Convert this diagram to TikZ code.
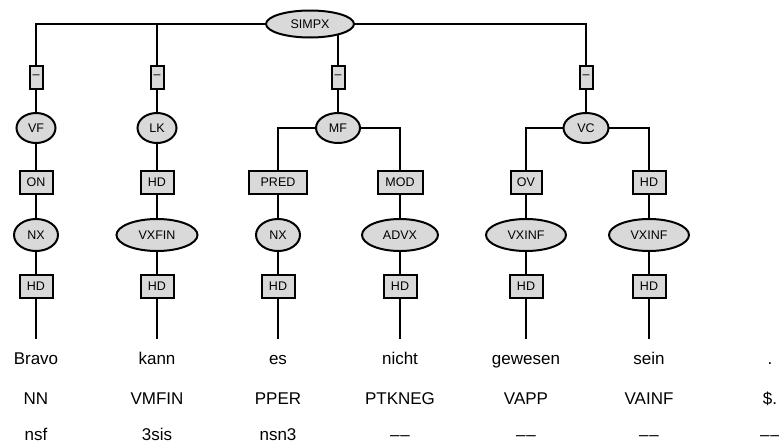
\documentclass[tikz,border=0pt]{standalone}
\usepackage{fontspec}
\setmainfont{Liberation Sans}
\usetikzlibrary{shapes.geometric,backgrounds}
\definecolor{nodegray}{RGB}{217,217,217}
\newcommand{\nomorph}{\textendash\kern0.8pt\textendash}
\begin{document}
\begin{tikzpicture}[x=1pt,y=-1pt,
  cat/.style={ellipse,draw,fill=nodegray,line width=2pt,inner sep=0pt,
    font=\fontsize{12.5}{14}\selectfont,minimum height=30pt},
  edgelab/.style={rectangle,draw,fill=nodegray,line width=2pt,inner sep=0pt,
    minimum height=23pt,minimum width=33pt,font=\fontsize{12.5}{14}\selectfont},
  conn/.style={line width=2pt},
  word/.style={anchor=base,font=\fontsize{17}{20}\selectfont,inner xsep=0pt,
    inner ysep=13pt,text height=12pt,text depth=4pt},
  tagtext/.style={anchor=base,font=\fontsize{17}{20}\selectfont,inner sep=0pt},
]
\useasboundingbox (0,0) rectangle (779,445);

% top level
\node[cat,minimum width=88pt,minimum height=27pt] (simpx) at (310,24) {SIMPX};
\node[edgelab,minimum width=13pt] (d1) at (36,77) {\textendash};
\node[edgelab,minimum width=13pt] (d2) at (157,77) {\textendash};
\node[edgelab,minimum width=13pt] (d3) at (338,77) {\textendash};
\node[edgelab,minimum width=13pt] (d4) at (586,77) {\textendash};

% fields
\node[cat,minimum width=39pt] (vf) at (36,128) {VF};
\node[cat,minimum width=39pt] (lk) at (157,128) {LK};
\node[cat,minimum width=44pt] (mf) at (338,128) {MF};
\node[cat,minimum width=45pt] (vc) at (586,128) {VC};

% functions
\node[edgelab] (on) at (36,182) {ON};
\node[edgelab] (hdlk) at (157,182) {HD};
\node[edgelab,minimum width=58pt] (pred) at (278,182) {PRED};
\node[edgelab,minimum width=45pt] (mod) at (400,182) {MOD};
\node[edgelab,minimum width=31pt] (ov) at (526,182) {OV};
\node[edgelab] (hdvc) at (649,182) {HD};

% phrases
\node[cat,minimum width=44pt,minimum height=32pt] (nxa) at (36,235) {NX};
\node[cat,minimum width=81pt,minimum height=32pt] (vxfin) at (157,235) {VXFIN};
\node[cat,minimum width=44pt,minimum height=32pt] (nxb) at (278,235) {NX};
\node[cat,minimum width=76pt,minimum height=32pt] (advx) at (400,235) {ADVX};
\node[cat,minimum width=80pt,minimum height=32pt] (vxinfa) at (526,235) {VXINF};
\node[cat,minimum width=80pt,minimum height=32pt] (vxinfb) at (649,235) {VXINF};

% heads
\node[edgelab] (ha) at (36,286) {HD};
\node[edgelab] (hb) at (157,286) {HD};
\node[edgelab] (hc) at (278,286) {HD};
\node[edgelab] (hd) at (400,286) {HD};
\node[edgelab] (he) at (526,286) {HD};
\node[edgelab] (hf) at (649,286) {HD};

% words
\node[word] (wa) at (36,364) {Bravo};
\node[word] (wb) at (157,364) {kann};
\node[word] (wc) at (278,364) {es};
\node[word] (wd) at (400,364) {nicht};
\node[word] (we) at (526,364) {gewesen};
\node[word] (wf) at (649,364) {sein};
\node[word] (wg) at (770,364) {.};

% POS tags
\node[tagtext] (pa) at (36,404) {NN};
\node[tagtext] (pb) at (157,404) {VMFIN};
\node[tagtext] (pc) at (278,404) {PPER};
\node[tagtext] (pd) at (400,404) {PTKNEG};
\node[tagtext] (pe) at (526,404) {VAPP};
\node[tagtext] (pf) at (649,404) {VAINF};
\node[tagtext] (pg) at (770,404) {\$.};

% morphology
\node[tagtext] (ma) at (36,440) {nsf};
\node[tagtext] (mb) at (157,440) {3sis};
\node[tagtext] (mc) at (278,440) {nsn3};
\node[tagtext] (md) at (400,440) {\nomorph};
\node[tagtext] (me) at (526,440) {\nomorph};
\node[tagtext] (mf2) at (649,440) {\nomorph};
\node[tagtext] (mg) at (770,440) {\nomorph};

\begin{scope}[on background layer]
  \draw[conn] (d1) |- (simpx.center) -| (d4);
  \draw[conn] (d2) -- (d2|-simpx);
  \draw[conn] (d3) -- (d3|-simpx);
  \draw[conn] (d1) -- (vf);
  \draw[conn] (d2) -- (lk);
  \draw[conn] (d3) -- (mf);
  \draw[conn] (d4) -- (vc);
  \draw[conn] (vf) -- (on);
  \draw[conn] (lk) -- (hdlk);
  \draw[conn] (pred) |- (mf.center) -| (mod);
  \draw[conn] (ov) |- (vc.center) -| (hdvc);
  \draw[conn] (on) -- (nxa);
  \draw[conn] (hdlk) -- (vxfin);
  \draw[conn] (pred) -- (nxb);
  \draw[conn] (mod) -- (advx);
  \draw[conn] (ov) -- (vxinfa);
  \draw[conn] (hdvc) -- (vxinfb);
  \draw[conn] (nxa) -- (ha);
  \draw[conn] (vxfin) -- (hb);
  \draw[conn] (nxb) -- (hc);
  \draw[conn] (advx) -- (hd);
  \draw[conn] (vxinfa) -- (he);
  \draw[conn] (vxinfb) -- (hf);
  \draw[conn] (ha) -- (wa.north);
  \draw[conn] (hb) -- (wb.north);
  \draw[conn] (hc) -- (wc.north);
  \draw[conn] (hd) -- (wd.north);
  \draw[conn] (he) -- (we.north);
  \draw[conn] (hf) -- (wf.north);
\end{scope}
\end{tikzpicture}
\end{document}
